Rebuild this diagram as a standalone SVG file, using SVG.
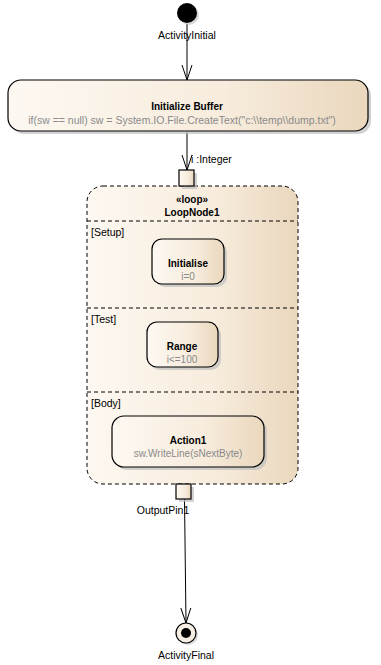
<svg xmlns="http://www.w3.org/2000/svg" width="381" height="665" viewBox="0 0 381 665">
<defs>
<linearGradient id="g" x1="0" y1="0" x2="1" y2="0">
<stop offset="0" stop-color="#fdf8f1"/>
<stop offset="0.6" stop-color="#f7ecdd"/>
<stop offset="1" stop-color="#ead7bd"/>
</linearGradient>
<marker id="arr" markerWidth="16" markerHeight="12" refX="15" refY="6" orient="auto" markerUnits="userSpaceOnUse" viewBox="0 0 16 12">
<path d="M0,1 L15,6 L0,11" fill="none" stroke="#000" stroke-width="1"/>
</marker>
</defs>
<style>
.box{fill:url(#g);stroke:#000;stroke-width:1.2}
.sh{fill:#bfbfbf;opacity:0.7}
.t{font-family:"Liberation Sans",Arial,sans-serif;font-size:10px;font-weight:bold;fill:#000;text-anchor:middle}
.s{font-family:"Liberation Sans",Arial,sans-serif;font-size:10px;fill:#8a8a8a;text-anchor:middle}
.l{font-family:"Liberation Sans",Arial,sans-serif;font-size:10.5px;fill:#000}
.dash{fill:none;stroke:#000;stroke-width:1;stroke-dasharray:4,3}
.c{stroke:#000;stroke-width:1;fill:none}
</style>
<g id="connectors">
<line class="c" x1="187" y1="24" x2="187" y2="80" marker-end="url(#arr)"/>
<line class="c" x1="187" y1="132" x2="187" y2="170" marker-end="url(#arr)"/>
<line class="c" x1="184.5" y1="499" x2="186" y2="623" marker-end="url(#arr)"/>
</g>
<g id="ActivityInitial">
<circle cx="189" cy="15" r="10" fill="#bfbfbf" opacity="0.6"/>
<circle cx="187" cy="13" r="10" fill="#000"/>
<text class="l" x="187" y="39" text-anchor="middle">ActivityInitial</text>
</g>
<g id="InitializeBuffer">
<rect class="sh" x="11" y="83" width="360" height="51" rx="13"/>
<rect class="box" x="8" y="80" width="360" height="51" rx="13"/>
<text class="t" x="187" y="110">Initialize Buffer</text>
<text class="s" x="182" y="124" style="font-size:10.5px">if(sw == null)  sw = System.IO.File.CreateText("c:\\temp\\dump.txt")</text>
</g>
<g id="LoopNode1">
<rect x="87" y="186" width="211" height="298" rx="16" fill="url(#g)"/>
<rect class="dash" x="87" y="186" width="211" height="298" rx="16"/>
<line class="dash" x1="87" y1="221" x2="298" y2="221"/>
<line class="dash" x1="87" y1="308" x2="298" y2="308"/>
<line class="dash" x1="87" y1="392" x2="298" y2="392"/>
<text class="t" x="192" y="203">«loop»</text>
<text class="t" x="192" y="216">LoopNode1</text>
<text class="l" x="91" y="236">[Setup]</text>
<text class="l" x="91" y="323">[Test]</text>
<text class="l" x="91" y="407">[Body]</text>
</g>
<g id="InputPin">
<rect class="sh" x="182" y="173" width="15" height="16"/>
<rect class="box" x="179" y="170" width="15" height="16"/>
<text class="l" x="191" y="163" fill="#1a2a5a">i :Integer</text>
</g>
<g id="Initialise">
<rect class="sh" x="155" y="242" width="72" height="45" rx="10"/>
<rect class="box" x="152" y="239" width="72" height="45" rx="10"/>
<text class="t" x="188" y="267">Initialise</text>
<text class="s" x="188" y="280">i=0</text>
</g>
<g id="Range">
<rect class="sh" x="150" y="325" width="71" height="45" rx="10"/>
<rect class="box" x="147" y="322" width="71" height="45" rx="10"/>
<text class="t" x="182" y="350">Range</text>
<text class="s" x="182" y="363">i&lt;=100</text>
</g>
<g id="Action1">
<rect class="sh" x="115" y="419" width="152" height="51" rx="12"/>
<rect class="box" x="112" y="416" width="152" height="51" rx="12"/>
<text class="t" x="188" y="444">Action1</text>
<text class="s" x="188" y="457">sw.WriteLine(sNextByte)</text>
</g>
<g id="OutputPin1">
<rect class="sh" x="179" y="487" width="15" height="15"/>
<rect class="box" x="176" y="484" width="15" height="15"/>
<text class="l" x="163" y="514" text-anchor="middle">OutputPin1</text>
</g>
<g id="ActivityFinal">
<circle cx="188" cy="635" r="10" fill="#bfbfbf" opacity="0.6"/>
<circle cx="186" cy="633" r="10" fill="#f8efe4" stroke="#000" stroke-width="1.2"/>
<circle cx="186" cy="633" r="5" fill="#000"/>
<text class="l" x="186" y="659" text-anchor="middle">ActivityFinal</text>
</g>
</svg>
